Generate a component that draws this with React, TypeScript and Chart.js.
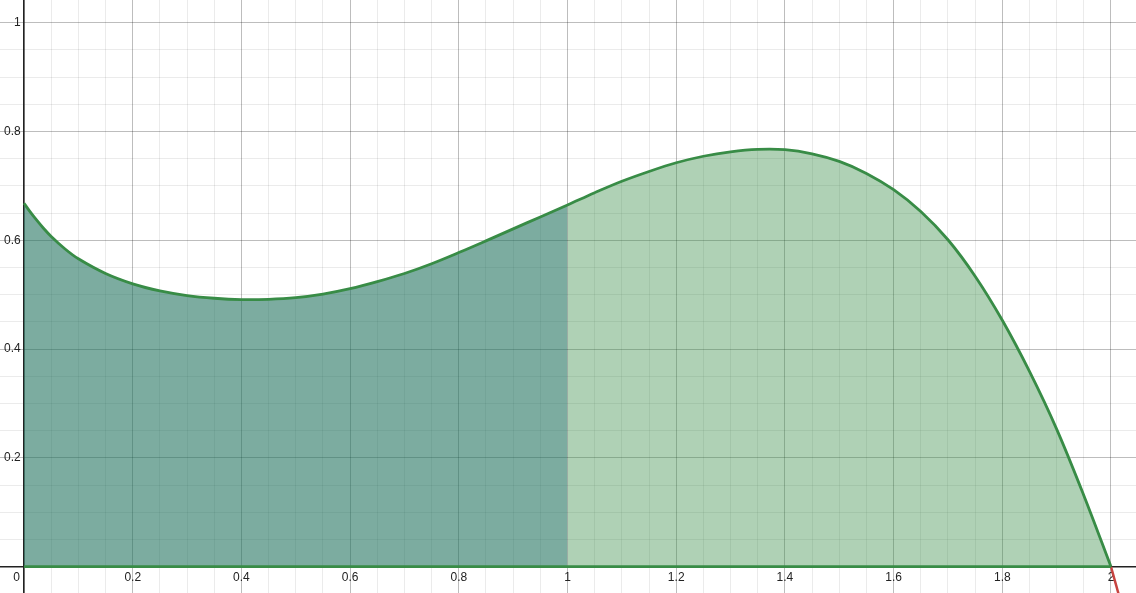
import React, { useEffect, useRef } from 'react';
import { Chart, registerables } from 'chart.js';

Chart.register(...registerables);

// Curve values
const curveX = [0, 0.01, 0.02, 0.035, 0.05, 0.075, 0.1, 0.15, 0.2, 0.25, 0.3, 0.35, 0.4, 0.45, 0.5, 0.55, 0.6, 0.65, 0.7, 0.75, 0.8, 0.85, 0.9, 0.95, 1.0, 1.05, 1.1, 1.15, 1.2, 1.25, 1.3, 1.35, 1.4, 1.45, 1.5, 1.55, 1.6, 1.65, 1.7, 1.75, 1.8, 1.85, 1.9, 1.95, 2.0];
const curveY = [0.668, 0.654, 0.641, 0.623, 0.607, 0.5845, 0.566, 0.539, 0.52, 0.507, 0.4985, 0.4935, 0.491, 0.4915, 0.4945, 0.501, 0.511, 0.524, 0.539, 0.557, 0.5775, 0.599, 0.621, 0.643, 0.665, 0.6875, 0.7085, 0.7265, 0.7425, 0.7545, 0.7627, 0.7672, 0.7666, 0.759, 0.745, 0.723, 0.693, 0.653, 0.601, 0.534, 0.453, 0.359, 0.253, 0.131, 0];

// Boundary of the region along the x-axis
const baseX = [0, 2];
const baseY = [0, 0];

// Continuation of the function past x = 2 (red)
const redX = [2, 2.03];
const redY = [0, -0.108];

// Split between the two shaded parts
const splitX = 1;

// Axis ranges and ticks
const xMin = -0.0442;
const xMax = 2.046;
const yMin = -0.0483;
const yMax = 1.0417;
const minorStep = 0.05;
const majorStep = 0.2;
const xTickLabels = ['0.2', '0.4', '0.6', '0.8', '1', '1.2', '1.4', '1.6', '1.8', '2'];
const yTickLabels = ['0.2', '0.4', '0.6', '0.8', '1'];

const FONT = '"Liberation Sans", Arial, sans-serif';
const GREEN = 'rgb(56,140,70)';
const RED = 'rgb(199,68,64)';
const TENSION = 0.35;

const toPts = (xs: number[], ys: number[]) => xs.map((x, i) => ({ x, y: ys[i] }));

const isMajor = (v: number) => Math.abs(v / majorStep - Math.round(v / majorStep)) < 1e-6;

const labelFor = (v: number, labels: string[]) => {
  if (!isMajor(v) || Math.abs(v) < 1e-9) return '';
  const s = String(Math.round(v * 10) / 10);
  return labels.includes(s) ? s : '';
};

const gridColor = (ctx: any) => {
  const v = ctx.tick ? ctx.tick.value : 1;
  return isMajor(v) ? 'rgba(0,0,0,0.26)' : 'rgba(0,0,0,0.08)';
};

const buildTicks = (min: number, max: number) => {
  const out: { value: number }[] = [];
  const start = Math.ceil(min / minorStep);
  const end = Math.floor(max / minorStep);
  for (let i = start; i <= end; i++) out.push({ value: Math.round(i * minorStep * 1000) / 1000 });
  return out;
};

const noPadding = (s: any) => {
  s.paddingTop = 0;
  s.paddingBottom = 0;
  s.paddingLeft = 0;
  s.paddingRight = 0;
};

const originLabel = {
  id: 'originLabel',
  afterDraw(chart: any) {
    const { ctx, scales } = chart;
    const px = scales.x.getPixelForValue(0);
    const py = scales.y.getPixelForValue(0);
    ctx.save();
    ctx.font = `12px ${FONT}`;
    ctx.fillStyle = '#222';
    ctx.textAlign = 'right';
    ctx.textBaseline = 'top';
    ctx.fillText('0', px - 4, py + 5);
    ctx.restore();
  },
};

export default function App() {
  const ref = useRef<HTMLCanvasElement | null>(null);

  useEffect(() => {
    if (!ref.current) return;
    const all = toPts(curveX, curveY);
    const left = all.filter((p) => p.x <= splitX);
    const right = all.filter((p) => p.x >= splitX);

    const chart = new Chart(ref.current, {
      type: 'line',
      data: {
        datasets: [
          {
            data: all,
            borderColor: GREEN,
            borderWidth: 2.8,
            pointRadius: 0,
            fill: false,
            tension: TENSION,
          },
          {
            data: toPts(baseX, baseY),
            borderColor: GREEN,
            borderWidth: 2.8,
            pointRadius: 0,
            fill: false,
          },
          {
            data: toPts(redX, redY),
            borderColor: RED,
            borderWidth: 2.5,
            pointRadius: 0,
            fill: false,
          },
          {
            data: left,
            borderWidth: 0,
            borderColor: 'rgba(0,0,0,0)',
            backgroundColor: 'rgba(30,112,92,0.58)',
            pointRadius: 0,
            fill: 'origin',
            tension: TENSION,
          },
          {
            data: right,
            borderWidth: 0,
            borderColor: 'rgba(0,0,0,0)',
            backgroundColor: 'rgba(56,140,70,0.4)',
            pointRadius: 0,
            fill: 'origin',
            tension: TENSION,
          },
        ],
      },
      options: {
        animation: false,
        responsive: false,
        layout: { padding: 0 },
        plugins: {
          legend: { display: false },
          tooltip: { enabled: false },
        },
        scales: {
          x: {
            type: 'linear',
            position: { y: 0 } as any,
            min: xMin,
            max: xMax,
            afterBuildTicks: (s: any) => {
              s.ticks = buildTicks(xMin, xMax);
            },
            afterFit: noPadding,
            ticks: {
              autoSkip: false,
              maxRotation: 0,
              minRotation: 0,
              padding: 4,
              color: '#222',
              font: { family: FONT, size: 12 },
              callback: (v: any) => labelFor(Number(v), xTickLabels),
            },
            grid: { color: gridColor, lineWidth: 1, drawTicks: false },
            border: { display: true, color: '#222', width: 1.5 },
          },
          y: {
            type: 'linear',
            position: { x: 0 } as any,
            min: yMin,
            max: yMax,
            afterBuildTicks: (s: any) => {
              s.ticks = buildTicks(yMin, yMax);
            },
            afterFit: noPadding,
            ticks: {
              autoSkip: false,
              padding: 4,
              color: '#222',
              font: { family: FONT, size: 12 },
              callback: (v: any) => {
                const s = labelFor(Number(v), yTickLabels);
                return s ? s + ' ' : '';
              },
            },
            grid: { color: gridColor, lineWidth: 1, drawTicks: false },
            border: { display: true, color: '#222', width: 1.5 },
          },
        },
      },
      plugins: [originLabel],
    });
    return () => chart.destroy();
  }, []);

  return (
    <div style={{ position: 'fixed', left: 0, top: 0, width: 1136, height: 593, background: '#fff' }}>
      <canvas ref={ref} width={1136} height={593} style={{ display: 'block', width: 1136, height: 593 }} />
    </div>
  );
}
